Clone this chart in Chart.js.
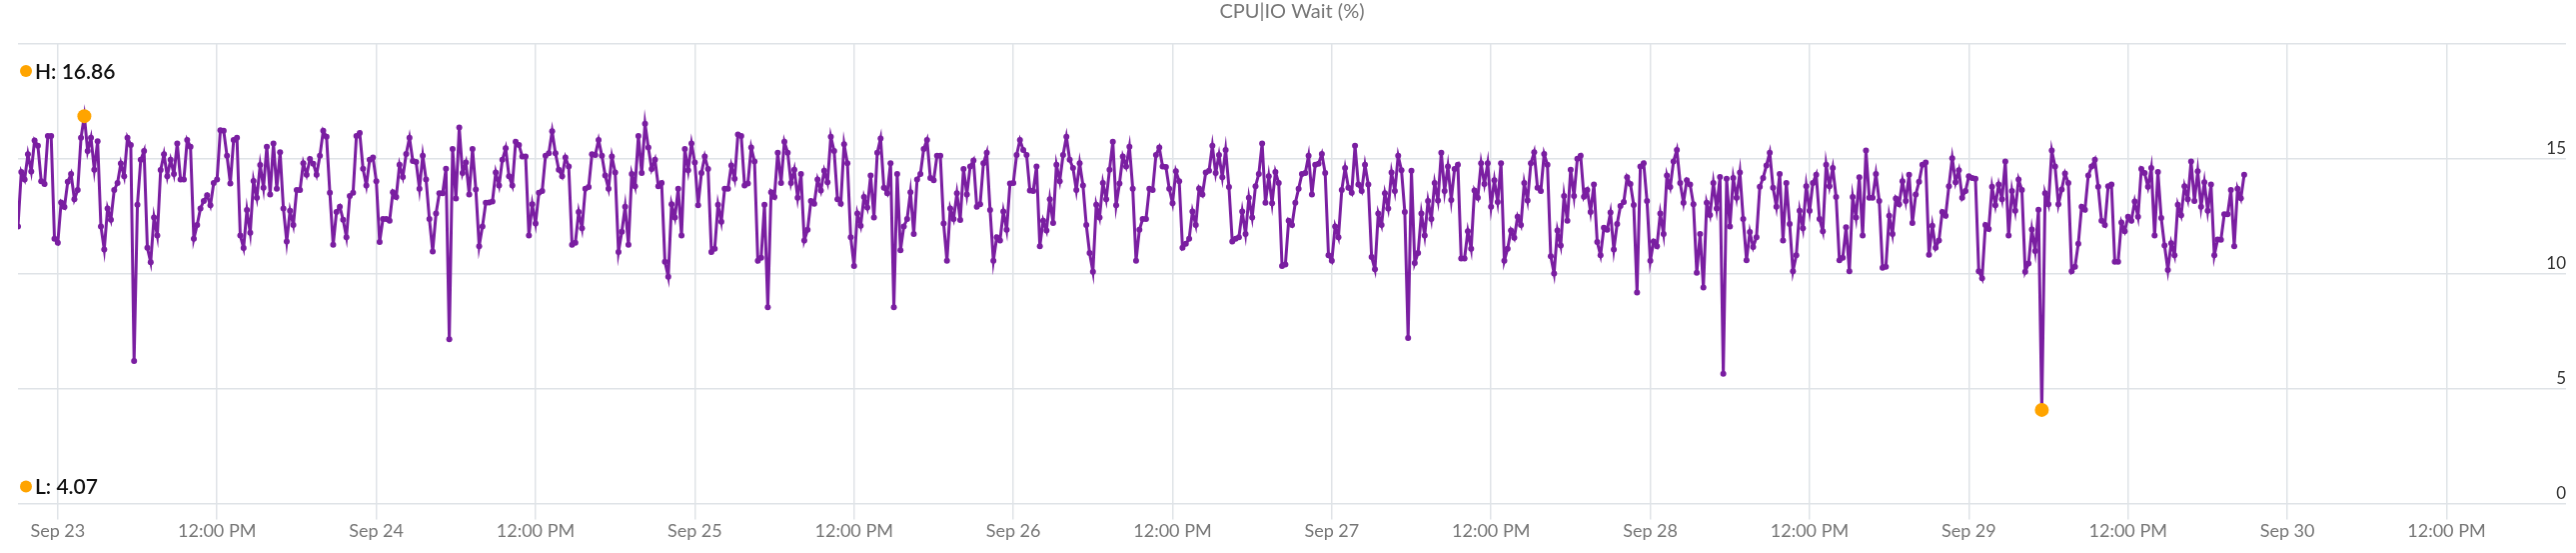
<!DOCTYPE html>
<html lang="en">
<head>
<meta charset="UTF-8">
<title>CPU|IO Wait (%)</title>
<script src="https://cdn.jsdelivr.net/npm/chart.js"></script>
<style>
    html, body {
        margin: 0;
        padding: 0;
        background: #fff;
    }
    #wrap {
        width: 2578px;
        height: 553px;
    }
</style>
</head>
<body>
<div id="wrap"><canvas id="ioChart"></canvas></div>
<script>
    // one sample every 15 minutes, the first at Sep 22 21:00
    // (x is hours counted from Sep 23 00:00)
    const firstSampleHour = -3;
    const sampleStepHours = 0.25;

    const ioWait = [
        12.06, 14.43, 14.1, 15.2, 14.45, 15.8, 15.57, 14.03, 13.9, 16.0,
        16.0, 11.52, 11.35, 13.1, 12.9, 14.0, 14.34, 13.24, 13.64, 15.92,
        16.86, 15.34, 15.92, 14.53, 15.77, 12.06, 11.05, 12.84, 12.35, 13.64,
        13.95, 14.8, 14.24, 15.92, 15.6, 6.2, 13.0, 14.96, 15.34, 11.13,
        10.5, 12.45, 11.66, 14.51, 15.2, 14.24, 14.96, 14.34, 15.67, 14.1,
        14.1, 15.82, 15.53, 11.52, 12.12, 12.84, 13.17, 13.41, 12.98, 13.95,
        14.1, 16.25, 16.22, 15.13, 13.93, 15.82, 15.92, 11.66, 11.12, 12.77,
        11.78, 14.04, 13.31, 14.73, 13.74, 15.53, 13.45, 15.67, 13.7, 15.29,
        12.84, 11.4, 12.74, 12.12, 13.64, 13.64, 14.81, 14.31, 14.99, 14.79,
        14.31, 15.13, 16.22, 15.96, 13.52, 11.26, 12.69, 12.92, 12.35, 11.59,
        13.38, 13.52, 15.99, 16.13, 14.57, 13.84, 14.96, 15.06, 14.03, 11.38,
        12.38, 12.38,
        12.31, 13.55, 13.34, 14.74, 14.21, 15.21, 15.92, 14.91, 14.86, 13.7,
        15.14, 14.1, 12.38, 10.97, 12.62, 13.5, 13.5, 14.57, 7.15, 15.43,
        13.27, 16.36, 14.38, 14.84, 13.45, 15.43, 13.67, 11.2, 12.06, 13.09,
        13.1, 13.14, 14.41, 13.84, 14.96, 15.46, 14.24, 13.84, 15.74, 15.6,
        15.1, 15.1, 11.66, 13.02, 12.19, 13.52, 13.6, 15.13, 15.24, 16.2,
        15.24, 14.53, 14.24, 15.06, 14.67, 11.26, 11.35, 12.69, 11.98, 13.7,
        13.77, 15.2, 15.17, 15.82, 15.13, 14.27, 13.7, 15.1, 14.41, 10.95,
        11.83, 12.92, 11.26, 14.34, 13.81, 16.0, 14.38, 16.53, 15.49, 14.56,
        14.96, 13.81, 13.95, 10.52, 9.87, 13.02, 12.45, 13.7, 11.66, 15.43,
        14.5, 15.67, 14.84, 12.98, 14.38, 15.1, 14.56, 10.95, 11.09, 13.0,
        12.26, 13.7, 13.7, 14.71, 14.13, 16.06, 15.99, 13.84, 13.93, 15.49,
        14.89, 10.56, 10.69, 13.0, 8.54,
        13.55, 13.34, 15.27, 13.95, 15.74, 15.27, 13.95, 14.53, 13.31, 14.34,
        11.45, 11.91, 13.17, 13.05, 14.1, 13.62, 14.48, 13.98, 15.96, 15.34,
        13.24, 13.05, 15.64, 14.81, 11.59, 10.34, 12.62, 12.09, 13.34, 12.88,
        14.27, 12.45, 15.27, 15.89, 13.74, 13.5, 14.81, 8.54, 14.34, 11.02,
        12.06, 12.38, 13.55, 11.73, 14.1, 14.34, 15.43, 15.82, 14.17, 14.07,
        15.13, 15.13, 12.19, 10.56, 12.84, 12.38, 13.5, 12.34, 14.56, 13.45,
        14.67, 14.93, 12.91, 13.02, 14.81, 15.27, 12.77, 10.56, 11.59, 11.45,
        12.71, 11.91, 13.93, 13.95, 15.17, 15.82, 15.39, 15.17, 13.62, 13.6,
        14.67, 11.19, 12.31, 11.88, 13.24, 12.21, 14.74, 14.03, 15.17, 15.96,
        14.96, 14.6, 13.64, 14.81, 13.84, 12.12, 10.9, 10.09, 13.0, 12.45,
        13.95, 13.24, 14.53, 15.74, 12.98, 13.93, 15.1, 14.67, 15.53, 13.7,
        10.56, 11.91, 12.38, 12.38, 13.7, 13.64, 15.17, 15.49,
        14.67, 14.64, 13.7, 13.07, 14.46, 14.03, 11.13, 11.3, 11.52, 12.71,
        12.12, 13.71, 13.45, 14.41, 14.48, 15.57, 14.38, 15.17, 14.2, 15.39,
        13.77, 11.4, 11.52, 11.59, 12.71, 11.73, 13.31, 12.45, 13.81, 14.34,
        15.67, 13.09, 14.24, 13.07, 14.43, 13.95, 10.34, 10.4, 12.31, 12.12,
        13.09, 13.7, 14.34, 14.38, 15.14, 13.45, 14.74, 14.79, 15.21, 14.38,
        10.8, 10.56, 12.06, 11.59, 13.64, 14.6, 13.74, 13.52, 15.57, 13.88,
        13.6, 14.74, 13.88, 10.73, 10.19, 12.62, 12.12, 13.5, 12.84, 14.41,
        13.6, 15.13, 14.5, 12.69, 7.2, 14.48, 10.47, 10.9, 12.62, 11.66,
        13.17, 12.38, 13.95, 13.19, 15.27, 13.6, 14.67, 13.21, 14.56, 14.74,
        10.66, 10.66, 11.85, 11.09, 13.62, 13.31, 14.81, 13.91, 14.81, 12.92,
        14.07, 13.12, 14.81, 10.56, 11.09, 11.88, 11.56, 12.48, 12.12, 13.95,
        13.19, 14.81, 15.29, 13.74,
        13.6, 15.21, 14.74, 10.76, 10.01, 11.88, 11.23, 13.38, 12.31, 14.53,
        13.38, 15.0, 15.14, 13.35, 13.64, 12.69, 13.88, 11.38, 10.8, 12.0,
        11.91, 12.66, 11.05, 12.16, 12.95, 13.12, 14.2, 13.91, 12.99, 9.18,
        14.67, 14.81, 13.17, 10.56, 11.4, 11.2, 12.62, 11.73, 14.28, 13.77,
        14.89, 15.39, 13.95, 13.09, 14.07, 13.88, 13.02, 10.04, 11.73, 9.4,
        13.09, 12.56, 13.95, 12.84, 14.21, 5.64, 14.13, 12.06, 14.17, 13.31,
        14.41, 12.38, 10.59, 11.81, 11.16, 11.59, 13.78, 14.17, 14.71, 15.27,
        13.74, 12.92, 14.34, 11.45, 13.95, 12.16, 10.11, 10.8, 12.74, 11.98,
        13.81, 12.74, 13.95, 14.31, 12.38, 11.85, 14.74, 13.81, 14.6, 13.34,
        10.59, 10.69, 12.02, 10.11, 13.34, 12.45, 14.2, 11.66, 15.36, 13.31,
        13.31, 14.34, 13.17, 10.26, 10.3, 12.52, 11.73, 13.27, 13.02, 14.03,
        13.17, 14.31, 12.21, 13.45, 14.0, 14.74,
        14.84, 10.83, 12.09, 11.13, 11.45, 12.69, 12.52, 13.81, 15.03, 13.98,
        14.5, 13.31, 13.6, 14.24, 14.17, 14.13, 10.11, 9.8, 12.12, 11.95,
        13.78, 12.98, 13.88, 13.24, 14.89, 11.66, 13.6, 12.74, 14.1, 13.64,
        10.09, 10.44, 11.92, 10.99, 12.78, 4.07, 13.5, 13.02, 15.36, 14.67,
        13.02, 13.67, 14.36, 13.95, 10.11, 10.3, 11.3, 12.92, 12.78, 14.27,
        14.67, 14.96, 13.78, 12.31, 12.12, 13.81, 13.88, 10.52, 10.52, 12.23,
        11.85, 12.48, 12.31, 13.14, 12.48, 14.56, 14.38, 13.78, 14.6, 11.66,
        14.43, 12.42, 11.23, 10.16, 11.33, 10.8, 13.0, 12.55, 13.81, 13.24,
        14.89, 13.17, 14.46, 12.91, 13.98, 12.74, 13.88, 10.8, 11.49, 11.48,
        12.59, 12.59, 13.64, 11.2, 13.7, 13.28, 14.31
    ];

    const xTickHours = [0, 12, 24, 36, 48, 60, 72, 84, 96, 108, 120, 132, 144, 156, 168, 180];
    const xTickLabels = ['Sep 23', '12:00 PM', 'Sep 24', '12:00 PM', 'Sep 25', '12:00 PM',
        'Sep 26', '12:00 PM', 'Sep 27', '12:00 PM', 'Sep 28', '12:00 PM',
        'Sep 29', '12:00 PM', 'Sep 30', '12:00 PM'];
    const yTickValues = [0, 5, 10, 15, 20];

    const points = ioWait.map((v, i) => ({ x: firstSampleHour + i * sampleStepHours, y: v }));
    const hiIdx = ioWait.indexOf(Math.max(...ioWait));
    const loIdx = ioWait.indexOf(Math.min(...ioWait));

    const purple = '#7a1ea1';
    const orange = '#ffa400';
    const gridColor = '#dfe3e7';
    const fontFamily = 'Lato, "Noto Sans", sans-serif';

    Chart.defaults.font.family = fontFamily;

    // H / L badges in the upper and lower left corners of the plot
    const hiLoLabels = {
        id: 'hiLoLabels',
        afterDraw(chart) {
            const { ctx, chartArea } = chart;
            const rows = [
                ['H: ' + ioWait[hiIdx].toFixed(2), chartArea.top + 27],
                ['L: ' + ioWait[loIdx].toFixed(2), chartArea.bottom - 17]
            ];
            ctx.save();
            ctx.font = '600 21px ' + fontFamily;
            ctx.textBaseline = 'middle';
            rows.forEach(([txt, y]) => {
                ctx.fillStyle = orange;
                ctx.beginPath();
                ctx.arc(chartArea.left + 8, y, 6, 0, Math.PI * 2);
                ctx.fill();
                ctx.fillStyle = '#111';
                ctx.fillText(txt, chartArea.left + 17, y + 1);
            });
            ctx.restore();
        }
    };

    const isMark = c => c.dataIndex === hiIdx || c.dataIndex === loIdx;

    new Chart(document.getElementById('ioChart'), {
        type: 'line',
        data: {
            datasets: [{
                label: 'CPU|IO Wait (%)',
                data: points,
                borderColor: purple,
                borderWidth: 3,
                tension: 0,
                pointRadius: c => isMark(c) ? 7 : 3,
                pointBackgroundColor: c => isMark(c) ? orange : purple,
                pointBorderWidth: 0
            }]
        },
        options: {
            responsive: true,
            maintainAspectRatio: false,
            animation: false,
            layout: { padding: { left: 18, right: 10, top: 0, bottom: 10 } },
            plugins: {
                legend: { display: false },
                tooltip: { enabled: false },
                title: {
                    display: true,
                    text: 'CPU|IO Wait (%)',
                    color: '#777',
                    fullSize: false,
                    font: { size: 20, weight: 'normal' },
                    padding: { top: 0, bottom: 20 }
                }
            },
            scales: {
                x: {
                    type: 'linear',
                    min: -3,
                    max: 189,
                    afterBuildTicks: ax => { ax.ticks = xTickHours.map(v => ({ value: v })); },
                    grid: { color: gridColor, lineWidth: 1.5, tickLength: 16 },
                    border: { display: false },
                    ticks: {
                        color: '#777',
                        font: { size: 18 },
                        padding: 1,
                        autoSkip: false,
                        maxRotation: 0,
                        callback: (v, i) => xTickLabels[i]
                    }
                },
                y: {
                    position: 'right',
                    min: 0,
                    max: 20,
                    afterBuildTicks: ax => { ax.ticks = yTickValues.map(v => ({ value: v })); },
                    grid: { color: gridColor, lineWidth: 1.5, drawTicks: false },
                    border: { display: false },
                    ticks: {
                        mirror: true,
                        padding: 0,
                        labelOffset: -10,
                        color: '#333',
                        font: { size: 17 },
                        callback: v => v === 20 ? '' : v
                    }
                }
            }
        },
        plugins: [hiLoLabels]
    });
</script>
</body>
</html>
